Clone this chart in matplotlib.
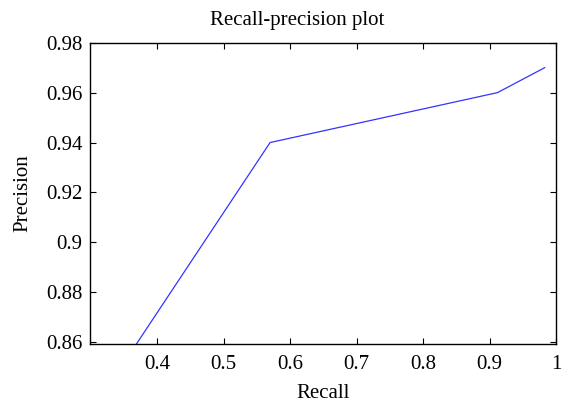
import matplotlib

matplotlib.use("Agg")

import matplotlib.pyplot as plt  # noqa: E402

# values
recall = [0.369, 0.57, 0.912, 0.983]
precision = [0.8593, 0.94, 0.96, 0.97]

x_ticks = [0.4, 0.5, 0.6, 0.7, 0.8, 0.9, 1.0]
x_tick_labels = ["0.4", "0.5", "0.6", "0.7", "0.8", "0.9", "1"]
y_ticks = [0.86, 0.88, 0.90, 0.92, 0.94, 0.96, 0.98]
y_tick_labels = ["0.86", "0.88", "0.9", "0.92", "0.94", "0.96", "0.98"]

plt.rcParams["font.family"] = ["Liberation Serif", "DejaVu Serif"]

fig = plt.figure(figsize=(5.63, 4.05), dpi=100)
ax = fig.add_axes([0.159, 0.1506, 0.8286, 0.744])

ax.plot(recall, precision, color="#3333ff", linewidth=0.9)

ax.set_xlim(0.2985, 1.0)
ax.set_ylim(0.8593, 0.98)
ax.set_xticks(x_ticks)
ax.set_xticklabels(x_tick_labels)
ax.set_yticks(y_ticks)
ax.set_yticklabels(y_tick_labels)

ax.tick_params(direction="in", top=True, right=True, length=4, width=0.8,
               labelsize=15)
ax.tick_params(axis="x", pad=8)
ax.tick_params(axis="y", pad=5)
for spine in ax.spines.values():
    spine.set_linewidth(1.0)

ax.set_xlabel("Recall", fontsize=15, labelpad=7)
ax.set_ylabel("Precision", fontsize=15, labelpad=10)
ax.set_title("Recall-precision plot", fontsize=15, x=0.446, pad=13)

fig.savefig("out.png", dpi=100, facecolor="white")
